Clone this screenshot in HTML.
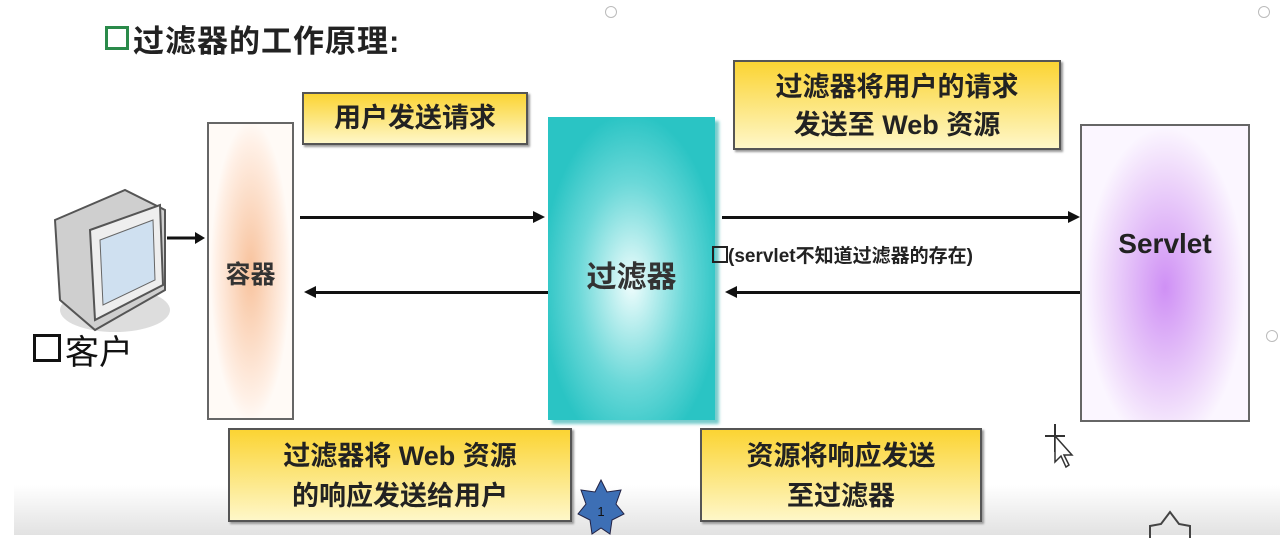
<!DOCTYPE html>
<html><head><meta charset="utf-8"><style>
body{margin:0;width:1280px;height:545px;overflow:hidden;background:#fff;font-family:"Liberation Sans","Noto Sans CJK SC",sans-serif;position:relative}
.a{position:absolute}
.lbl{position:absolute;border:2px solid #555;background:linear-gradient(#fbd433,#fef7c8);font-weight:bold;color:#222;text-align:center;box-shadow:2px 2px 2px #999}
.line{position:absolute;height:3px;background:#111}
</style></head><body>
<div class="a" style="left:0;top:485px;width:1280px;height:50px;background:linear-gradient(#fff,#e2e2e2)"></div>
<div class="a" style="left:0;top:0;width:14px;height:545px;background:#fff"></div>
<div class="a" style="left:105px;top:16px;font-size:31px;font-weight:bold;color:#222;letter-spacing:1px"><span style="display:inline-block;width:18px;height:18px;border:3px solid #2a8a4a;vertical-align:2px;margin-right:4px"></span>过滤器的工作原理:</div>
<div class="a" style="left:605px;top:6px;width:10px;height:10px;border:1.5px solid #bbb;border-radius:50%"></div>
<svg class="a" style="left:45px;top:180px" width="160" height="180">
<ellipse cx="70" cy="130" rx="55" ry="22" fill="#ddd"/>
<polygon points="10,40 80,10 120,30 120,110 50,150 15,120" fill="#cfcfcf" stroke="#555" stroke-width="2"/>
<polygon points="45,50 115,25 118,105 50,140" fill="#eee" stroke="#555" stroke-width="2"/>
<polygon points="55,60 108,40 110,100 58,125" fill="#cfe0f0" stroke="#666"/>
<line x1="122" y1="58" x2="150" y2="58" stroke="#111" stroke-width="3"/>
<polygon points="150,52 160,58 150,64" fill="#111"/>
</svg>
<div class="a" style="left:33px;top:325px;font-size:34px;color:#111"><span style="display:inline-block;width:22px;height:22px;border:3px solid #111;vertical-align:2px;margin-right:4px"></span>客户</div>
<div class="a" style="left:207px;top:122px;width:83px;height:294px;border:2px solid #666;background:radial-gradient(ellipse 40px 150px at 50% 50%,#f8c29c,#fff0e6 85%,#fffaf6)"></div>
<div class="a" style="left:207px;top:255px;width:87px;text-align:center;font-size:25px;font-weight:bold;color:#333">容器</div>
<div class="a" style="left:548px;top:117px;width:167px;height:303px;background:radial-gradient(ellipse 90px 170px at 50% 55%,#f0fdfd,#6ad8d8 60%,#2ac4c4);box-shadow:4px 4px 3px #7cc"></div>
<div class="a" style="left:548px;top:252px;width:167px;text-align:center;font-size:30px;font-weight:bold;color:#333">过滤器</div>
<div class="a" style="left:1080px;top:124px;width:166px;height:294px;border:2px solid #666;background:radial-gradient(ellipse 80px 160px at 50% 55%,#cf90f5,#f0dcfb 75%,#fbf6ff)"></div>
<div class="a" style="left:1080px;top:228px;width:170px;text-align:center;font-size:28px;font-weight:bold;color:#222">Servlet</div>
<div class="lbl" style="left:302px;top:92px;width:222px;height:49px;line-height:49px;font-size:27px">用户发送请求</div>
<div class="lbl" style="left:733px;top:60px;width:328px;height:90px;font-size:27px;line-height:38px;padding-top:6px;box-sizing:border-box">过滤器将用户的请求<br>发送至 Web 资源</div>
<div class="lbl" style="left:228px;top:428px;width:344px;height:94px;font-size:27px;line-height:40px;padding-top:6px;box-sizing:border-box">过滤器将 Web 资源<br>的响应发送给用户</div>
<div class="lbl" style="left:700px;top:428px;width:282px;height:94px;font-size:27px;line-height:40px;padding-top:6px;box-sizing:border-box">资源将响应发送<br>至过滤器</div>
<div class="line" style="left:300px;top:216px;width:235px"></div>
<div class="a" style="left:533px;top:211px;border-left:12px solid #111;border-top:6px solid transparent;border-bottom:6px solid transparent"></div>
<div class="line" style="left:315px;top:291px;width:233px"></div>
<div class="a" style="left:304px;top:286px;border-right:12px solid #111;border-top:6px solid transparent;border-bottom:6px solid transparent"></div>
<div class="line" style="left:722px;top:216px;width:347px"></div>
<div class="a" style="left:1068px;top:211px;border-left:12px solid #111;border-top:6px solid transparent;border-bottom:6px solid transparent"></div>
<div class="line" style="left:737px;top:291px;width:343px"></div>
<div class="a" style="left:725px;top:286px;border-right:12px solid #111;border-top:6px solid transparent;border-bottom:6px solid transparent"></div>
<div class="a" style="left:712px;top:241px;font-size:19px;font-weight:bold;color:#222"><span style="display:inline-block;width:12px;height:13px;border:2px solid #222;vertical-align:-1px"></span>(servlet不知道过滤器的存在)</div>
<svg class="a" style="left:576px;top:478px" width="50" height="62"><polygon points="25,2 31,14 45,12 40,26 48,36 36,42 34,56 25,50 16,56 14,42 2,36 10,26 5,12 19,14" fill="#3d6fb5" stroke="#224"/><text x="25" y="38" font-size="13" text-anchor="middle" fill="#111" font-family="Liberation Sans">1</text></svg>
<svg class="a" style="left:1145px;top:508px" width="50" height="30"><polyline points="5,30 5,18 16,16 25,4 34,16 45,18 45,30" fill="none" stroke="#444" stroke-width="2"/></svg>
<svg class="a" style="left:1040px;top:422px" width="40" height="50"><path d="M15 2 L15 30 M5 14 L25 14" stroke="#333" stroke-width="2"/><path d="M15 14 L15 40 L21 34 L26 45 L29 43 L24 33 L32 33 Z" fill="#fff" stroke="#333" stroke-width="1.5"/></svg>
<div class="a" style="left:1258px;top:6px;width:10px;height:10px;border:1.5px solid #bbb;border-radius:50%"></div>
<div class="a" style="left:1266px;top:330px;width:10px;height:10px;border:1.5px solid #bbb;border-radius:50%"></div>
</body></html>
